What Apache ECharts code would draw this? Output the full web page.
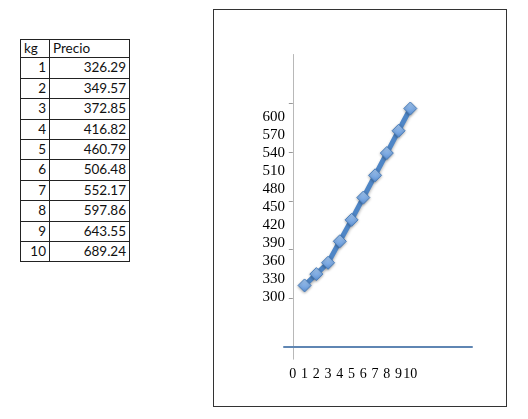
<!DOCTYPE html>
<html>
<head>
<meta charset="utf-8">
<script src="https://cdn.jsdelivr.net/npm/echarts@6/dist/echarts.min.js"></script>
<style>
  body { margin: 0; background: #fff; width: 528px; height: 419px; position: relative; overflow: hidden; }
  #tabla { position: absolute; left: 20px; top: 39px; border-collapse: collapse; font-family: Lato, "Open Sans", sans-serif; font-size: 13.5px; color: #111; }
  #tabla td, #tabla th { border: 1px solid #222; padding: 0 3px; height: 19.4px; line-height: 19.4px; }
  #tabla th { font-weight: normal; text-align: left; height: 17.4px; line-height: 17.4px; }
  #tabla td { text-align: right; }
  #main { position: absolute; left: 213px; top: 9px; width: 294px; height: 398px; border: 1px solid #333; box-sizing: border-box; }
</style>
</head>
<body>
<table id="tabla"></table>
<div id="main"></div>
<script>
// datos de la tabla
var kg = [1, 2, 3, 4, 5, 6, 7, 8, 9, 10];
var precio = [326.29, 349.57, 372.85, 416.82, 460.79, 506.48, 552.17, 597.86, 643.55, 689.24];

// etiquetas que aparecen en el grafico
var etiquetasX = [0, 1, 2, 3, 4, 5, 6, 7, 8, 9, 10];
var etiquetasY = [300, 330, 360, 390, 420, 450, 480, 510, 540, 570, 600];
var marcasY = [300, 400, 500, 600, 700];

// tabla
var html = '<tr><th style="width:22px">kg</th><th style="width:73px">Precio</th></tr>';
for (var i = 0; i < kg.length; i++) {
    html += '<tr><td>' + kg[i] + '</td><td>' + precio[i].toFixed(2) + '</td></tr>';
}
document.getElementById('tabla').innerHTML = html;

var puntos = kg.map(function (k, i) { return [k, precio[i]]; });

var myChart = echarts.init(document.getElementById('main'));

var serif = '"Liberation Serif", "DejaVu Serif", serif';

option = {
    animation: false,
    grid: [
        { left: 70, top: 44.5, width: 188, height: 304.7 },
        { left: 79, top: 106.7, width: 10, height: 180 }
    ],
    xAxis: [
        {
            type: 'value',
            gridIndex: 0,
            min: -0.75,
            max: 15.25,
            offset: -12.2,
            splitLine: { show: false },
            axisLine: { show: true, lineStyle: { color: '#5f86b3', width: 2 } },
            axisTick: { show: false },
            axisLabel: {
                customValues: etiquetasX,
                margin: 20,
                color: '#000',
                fontFamily: serif,
                fontSize: 14
            }
        },
        { type: 'value', gridIndex: 1, show: false }
    ],
    yAxis: [
        {
            type: 'value',
            gridIndex: 0,
            min: 175,
            max: 800,
            offset: -8.8,
            splitLine: { show: false },
            axisLine: { show: true, lineStyle: { color: '#b8b8b8', width: 1 } },
            axisTick: { show: true, customValues: marcasY, length: 4, lineStyle: { color: '#999' } },
            axisLabel: { show: false }
        },
        {
            type: 'value',
            gridIndex: 1,
            min: 300,
            max: 600,
            interval: 30,
            splitLine: { show: false },
            axisLine: { show: false },
            axisTick: { show: false },
            axisLabel: {
                customValues: etiquetasY,
                margin: 8,
                color: '#000',
                fontFamily: serif,
                fontSize: 15
            }
        }
    ],
    series: [{
        type: 'line',
        xAxisIndex: 0,
        yAxisIndex: 0,
        data: puntos,
        symbol: 'diamond',
        symbolSize: 13,
        lineStyle: {
            color: '#4f86c6',
            width: 5,
            shadowColor: 'rgba(0,0,0,0.3)',
            shadowBlur: 3,
            shadowOffsetY: 2
        },
        itemStyle: {
            color: new echarts.graphic.LinearGradient(0, 0, 0, 1, [
                { offset: 0, color: '#a8cbf3' },
                { offset: 1, color: '#5c91d6' }
            ]),
            borderColor: '#4a7ebb',
            borderWidth: 1,
            shadowColor: 'rgba(0,0,0,0.3)',
            shadowBlur: 3,
            shadowOffsetY: 1
        }
    }]
};

myChart.setOption(option);
</script>
</body>
</html>
